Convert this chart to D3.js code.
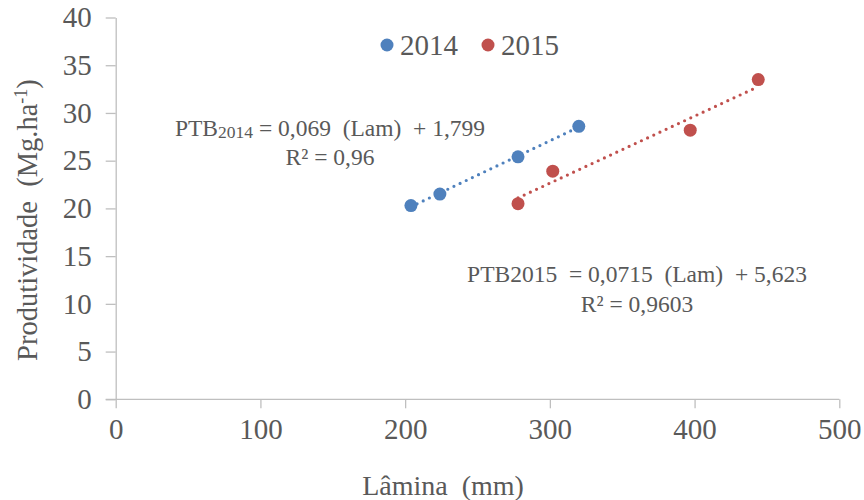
<!DOCTYPE html>
<html>
<head>
<meta charset="utf-8">
<script src="https://cdn.jsdelivr.net/npm/d3@7"></script>
<style>
	body { margin: 0; background: #fff; }
	svg { display: block; font-family: "Liberation Serif", "Times New Roman", serif; }
	.axis path, .axis line { stroke: #bfbfbf; stroke-width: 1.3; }
	.axis text { fill: #595959; font-size: 29px; font-family: "Liberation Serif", serif; }
</style>
</head>
<body>
<svg width="864" height="500"></svg>
<script>
var years = ['2014', '2015'],
	colors = ['#4f81bd', '#c0504d'],
	lamina2014 = [204, 224, 278, 320],
	prod2014 = [20.3, 21.5, 25.4, 28.6],
	lamina2015 = [278, 302, 397, 444],
	prod2015 = [20.5, 23.9, 28.2, 33.5],
	xTicks = [0, 100, 200, 300, 400, 500],
	yTicks = [0, 5, 10, 15, 20, 25, 30, 35, 40]

var series = [
	{ name: years[0], color: colors[0], x: lamina2014, y: prod2014 },
	{ name: years[1], color: colors[1], x: lamina2015, y: prod2015 }
]

var svg = d3.select('svg'),
	plotLeft = 115.7, plotRight = 839.3, plotTop = 17.5, plotBottom = 399.3

var x = d3.scaleLinear().domain([0, 500]).range([plotLeft, plotRight]),
	y = d3.scaleLinear().domain([0, 40]).range([plotBottom, plotTop])

// axes
svg.append('g')
	.attr('class', 'axis')
	.attr('transform', 'translate(0,' + plotBottom + ')')
	.call(d3.axisBottom(x).tickValues(xTicks).tickSize(9).tickSizeOuter(0).tickPadding(10))
	.call(function(g) { g.select('.domain').attr('d', 'M' + (plotLeft - 10) + ',0H' + plotRight) })

svg.append('g')
	.attr('class', 'axis')
	.attr('transform', 'translate(' + plotLeft + ',0)')
	.call(d3.axisLeft(y).tickValues(yTicks).tickSize(10).tickSizeOuter(0).tickPadding(14))

svg.selectAll('.axis .domain').attr('fill', 'none')

// trend lines (least squares over each series)
function fit(xs, ys) {
	var mx = d3.mean(xs), my = d3.mean(ys)
	var b = d3.sum(xs, function(v, i) { return (v - mx) * (ys[i] - my) }) /
		d3.sum(xs, function(v) { return (v - mx) * (v - mx) })
	return { b: b, a: my - b * mx }
}

series.forEach(function(s) {
	var f = fit(s.x, s.y),
		x0 = d3.min(s.x), x1 = d3.max(s.x)
	svg.append('line')
		.attr('x1', x(x0)).attr('y1', y(f.a + f.b * x0))
		.attr('x2', x(x1)).attr('y2', y(f.a + f.b * x1))
		.attr('stroke', s.color)
		.attr('stroke-width', 3.2)
		.attr('stroke-linecap', 'round')
		.attr('stroke-dasharray', '0,6.8')
})

series.forEach(function(s) {
	svg.append('g').selectAll('circle')
		.data(s.x.map(function(v, i) { return [v, s.y[i]] }))
		.enter().append('circle')
		.attr('cx', function(d) { return x(d[0]) })
		.attr('cy', function(d) { return y(d[1]) })
		.attr('r', 6.5)
		.attr('fill', s.color)
})

// legend
var legendX = [387, 488]
series.forEach(function(s, i) {
	svg.append('circle').attr('cx', legendX[i]).attr('cy', 45).attr('r', 6.5).attr('fill', s.color)
	svg.append('text').attr('x', legendX[i] + 13).attr('y', 55)
		.attr('fill', '#595959').attr('font-size', 29).text(s.name)
})

// equations
var eqSize = 23.5
var eq1 = svg.append('text').attr('x', 330).attr('y', 136).attr('text-anchor', 'middle')
	.attr('fill', '#595959').attr('font-size', eqSize)
eq1.append('tspan').text('PTB')
eq1.append('tspan').attr('font-size', 17.5).attr('dy', 2).text('2014')
eq1.append('tspan').attr('dy', -2).text('\u00a0= 0,069\u00a0 (Lam)\u00a0 + 1,799')
svg.append('text').attr('x', 330).attr('y', 165).attr('text-anchor', 'middle')
	.attr('fill', '#595959').attr('font-size', eqSize).text('R² = 0,96')

svg.append('text').attr('x', 637).attr('y', 282).attr('text-anchor', 'middle')
	.attr('fill', '#595959').attr('font-size', eqSize)
	.text('PTB2015\u00a0 = 0,0715\u00a0 (Lam)\u00a0 + 5,623')
svg.append('text').attr('x', 637).attr('y', 312).attr('text-anchor', 'middle')
	.attr('fill', '#595959').attr('font-size', eqSize).text('R² = 0,9603')

// axis titles
svg.append('text').attr('x', 443).attr('y', 495).attr('text-anchor', 'middle')
	.attr('fill', '#595959').attr('font-size', 28).text('Lâmina\u00a0 (mm)')

var yt = svg.append('text').attr('transform', 'translate(37,220) rotate(-90)')
	.attr('text-anchor', 'middle').attr('fill', '#595959').attr('font-size', 28.5)
yt.append('tspan').text('Produtividade\u00a0 (Mg.ha')
yt.append('tspan').attr('font-size', 18).attr('dy', -10).text('-1')
yt.append('tspan').attr('dy', 10).text(')')
</script>
</body>
</html>
